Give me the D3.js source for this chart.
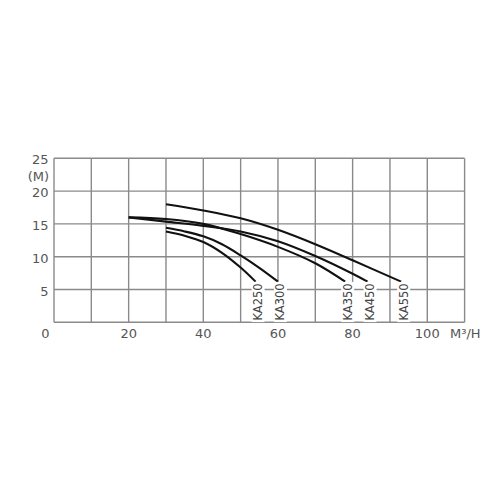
<!DOCTYPE html>
<html>
<head>
<meta charset="utf-8">
<script src="https://cdn.jsdelivr.net/npm/d3@7/dist/d3.min.js"></script>
<style>
  html, body { margin: 0; padding: 0; background: #fff; }
  svg { display: block; }
  text { font-family: "DejaVu Sans", sans-serif; fill: #555; }
</style>
</head>
<body>
<svg id="chart" width="500" height="500"></svg>
<script>
// ---- data ----
const xTickLabels = [20, 40, 60, 80, 100];
const yTickLabels = [5, 10, 15, 20, 25];
const xUnit = "M³/H";
const yUnit = "(M)";
const seriesNames = ["KA250", "KA300", "KA350", "KA450", "KA550"];
const ka250 = [[30, 13.85], [35, 13.2], [40, 12.25], [45, 10.6], [50, 8.35], [54, 6.2]];
const ka300 = [[30, 14.4], [35, 13.85], [40, 13.1], [45, 11.9], [50, 10.2], [55, 8.3], [60, 6.2]];
const ka350 = [[20, 16.0], [30, 15.75], [40, 15.0], [50, 13.45], [60, 11.5], [70, 9.0], [78, 6.2]];
const ka450 = [[20, 16.0], [30, 15.35], [40, 14.7], [50, 13.85], [60, 12.35], [70, 10.1], [80, 7.4], [84, 6.2]];
const ka550 = [[30, 18.0], [40, 17.05], [50, 15.85], [60, 14.1], [70, 11.9], [80, 9.45], [93, 6.2]];
const seriesValues = [ka250, ka300, ka350, ka450, ka550];

// ---- chart ----
const svg = d3.select("#chart");
const x = d3.scaleLinear().domain([0, 110]).range([54, 464.6]);
const y = d3.scaleLinear().domain([0, 25]).range([322.3, 158.3]);

const gridColor = "#8a8a8a";
const grid = svg.append("g");
d3.range(0, 111, 10).forEach(v => {
  grid.append("line")
    .attr("x1", x(v)).attr("x2", x(v))
    .attr("y1", y(0)).attr("y2", y(25))
    .attr("stroke", gridColor).attr("stroke-width", 1.4);
});
d3.range(0, 26, 5).forEach(v => {
  grid.append("line")
    .attr("x1", x(0)).attr("x2", x(110))
    .attr("y1", y(v)).attr("y2", y(v))
    .attr("stroke", gridColor).attr("stroke-width", 1.4);
});

// curves
const line = d3.line()
  .x(d => x(d[0])).y(d => y(d[1]))
  .curve(d3.curveCatmullRom.alpha(0.5));
seriesValues.forEach(vals => {
  svg.append("path")
    .attr("d", line(vals))
    .attr("fill", "none")
    .attr("stroke", "#111")
    .attr("stroke-width", 2.1)
    .attr("stroke-linecap", "butt");
});

// series labels (vertical, below curve end)
seriesValues.forEach((vals, i) => {
  const end = vals[vals.length - 1];
  const cx = x(end[0]) + 2.5;
  const cy = 302;
  const g = svg.append("g").attr("transform", `translate(${cx},${cy}) rotate(-90)`);
  const t = g.append("text")
    .text(seriesNames[i])
    .attr("text-anchor", "middle")
    .attr("dominant-baseline", "central")
    .style("font-size", "11.5px")
    .style("fill", "#444");
  const bb = t.node().getBBox();
  g.insert("rect", "text")
    .attr("x", bb.x - 1.5).attr("y", bb.y + 0.5)
    .attr("width", bb.width + 3).attr("height", bb.height - 1)
    .attr("fill", "#fff");
});

// x tick labels
xTickLabels.forEach(v => {
  svg.append("text")
    .attr("x", x(v)).attr("y", 333.5)
    .attr("text-anchor", "middle")
    .attr("dominant-baseline", "central")
    .style("font-size", "13px")
    .text(v);
});
svg.append("text")
  .attr("x", 45.5).attr("y", 333.5)
  .attr("text-anchor", "middle")
  .attr("dominant-baseline", "central")
  .style("font-size", "13px")
  .text(0);
svg.append("text")
  .attr("x", 450).attr("y", 333.5)
  .attr("dominant-baseline", "central")
  .style("font-size", "13px")
  .text(xUnit);

// y tick labels
yTickLabels.forEach(v => {
  svg.append("text")
    .attr("x", 48.5).attr("y", y(v) + 1.5)
    .attr("text-anchor", "end")
    .attr("dominant-baseline", "central")
    .style("font-size", "13px")
    .text(v);
});
svg.append("text")
  .attr("x", 49).attr("y", 176)
  .attr("text-anchor", "end")
  .attr("dominant-baseline", "central")
  .style("font-size", "13px")
  .text(yUnit);
</script>
</body>
</html>
